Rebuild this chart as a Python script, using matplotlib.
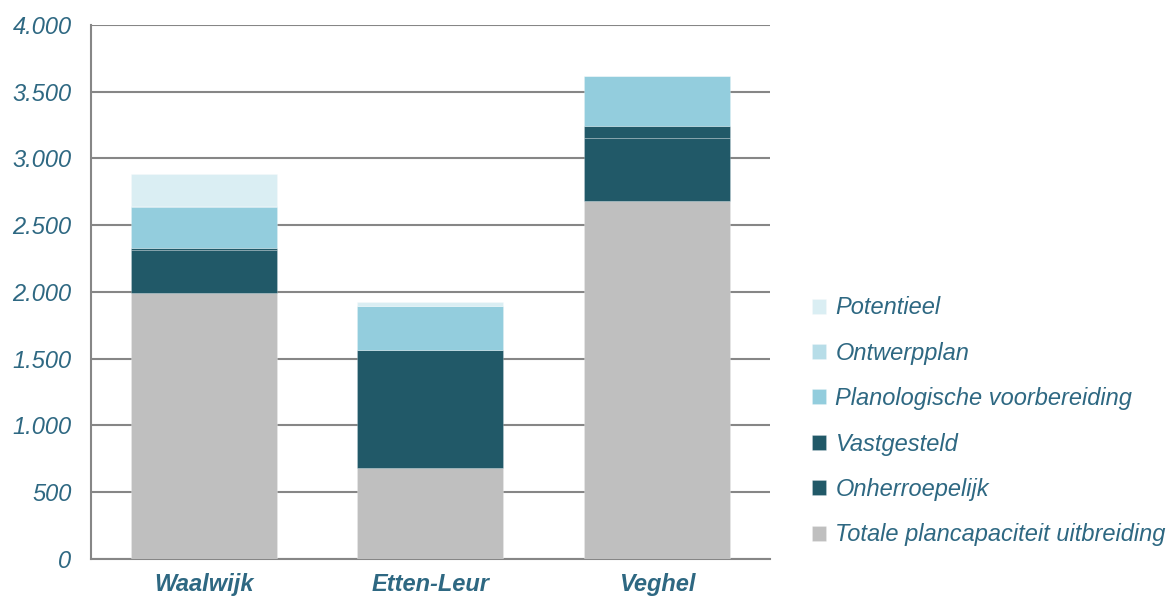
import numpy as np
import matplotlib.pyplot as plt
from matplotlib.ticker import FuncFormatter

plt.rcParams['font.family'] = ['Liberation Sans', 'DejaVu Sans']

# plancapaciteit per gemeente (woningen)
gemeenten = ['Waalwijk', 'Etten-Leur', 'Veghel']
totale = [1990, 680, 2685]
onherroepelijk = [325, 885, 470]
vastgesteld = [15, 0, 90]
planologisch = [305, 330, 375]
ontwerpplan = [12, 0, 0]
potentieel = [235, 28, 0]

reeksen = [
    ('Totale plancapaciteit uitbreiding', totale, '#BFBFBF'),
    ('Onherroepelijk', onherroepelijk, '#215968'),
    ('Vastgesteld', vastgesteld, '#215968'),
    ('Planologische voorbereiding', planologisch, '#93CDDD'),
    ('Ontwerpplan', ontwerpplan, '#B7DDE8'),
    ('Potentieel', potentieel, '#DAEEF3'),
]

tekstkleur = '#2E6882'
lijnkleur = '#868686'

fig = plt.figure(figsize=(11.68, 5.99), dpi=100)
ax = fig.add_axes([0.0779, 0.0668, 0.5813, 0.8915])

x = np.arange(len(gemeenten))
onder = np.zeros(len(gemeenten))
for naam, waarden, kleur in reeksen:
    ax.bar(x, waarden, 0.645, bottom=onder, color=kleur, label=naam,
           edgecolor=(1, 1, 1, 0.25), linewidth=0.6, zorder=3)
    onder += np.array(waarden)

ax.set_xlim(-0.5, 2.5)
ax.set_ylim(0, 4000)
ax.set_yticks(range(0, 4001, 500))
ax.yaxis.set_major_formatter(FuncFormatter(lambda v, p: f'{int(v):,}'.replace(',', '.')))
ax.set_xticks(x)
ax.set_xticklabels(gemeenten, fontsize=17, fontstyle='italic', fontweight='bold', color=tekstkleur)
for lbl in ax.get_yticklabels():
    lbl.set_fontsize(17)
    lbl.set_fontstyle('italic')
    lbl.set_color(tekstkleur)

ax.grid(axis='y', color=lijnkleur, linewidth=1.5, zorder=0)
ax.tick_params(axis='both', length=0)
ax.tick_params(axis='y', pad=14)
ax.tick_params(axis='x', pad=10)
for s in ['top', 'right']:
    ax.spines[s].set_visible(False)
for s in ['left', 'bottom']:
    ax.spines[s].set_color(lijnkleur)
    ax.spines[s].set_linewidth(1.5)

handles, labels = ax.get_legend_handles_labels()
leg = ax.legend(handles[::-1], labels[::-1], loc='upper left',
                bbox_to_anchor=(0.685, 0.525), bbox_transform=fig.transFigure,
                frameon=False, fontsize=17, handlelength=0.6, handleheight=0.6,
                handletextpad=0.4, labelspacing=0.95, borderpad=0)
for t in leg.get_texts():
    t.set_color(tekstkleur)
    t.set_fontstyle('italic')

fig.savefig('out.png', dpi=100)
